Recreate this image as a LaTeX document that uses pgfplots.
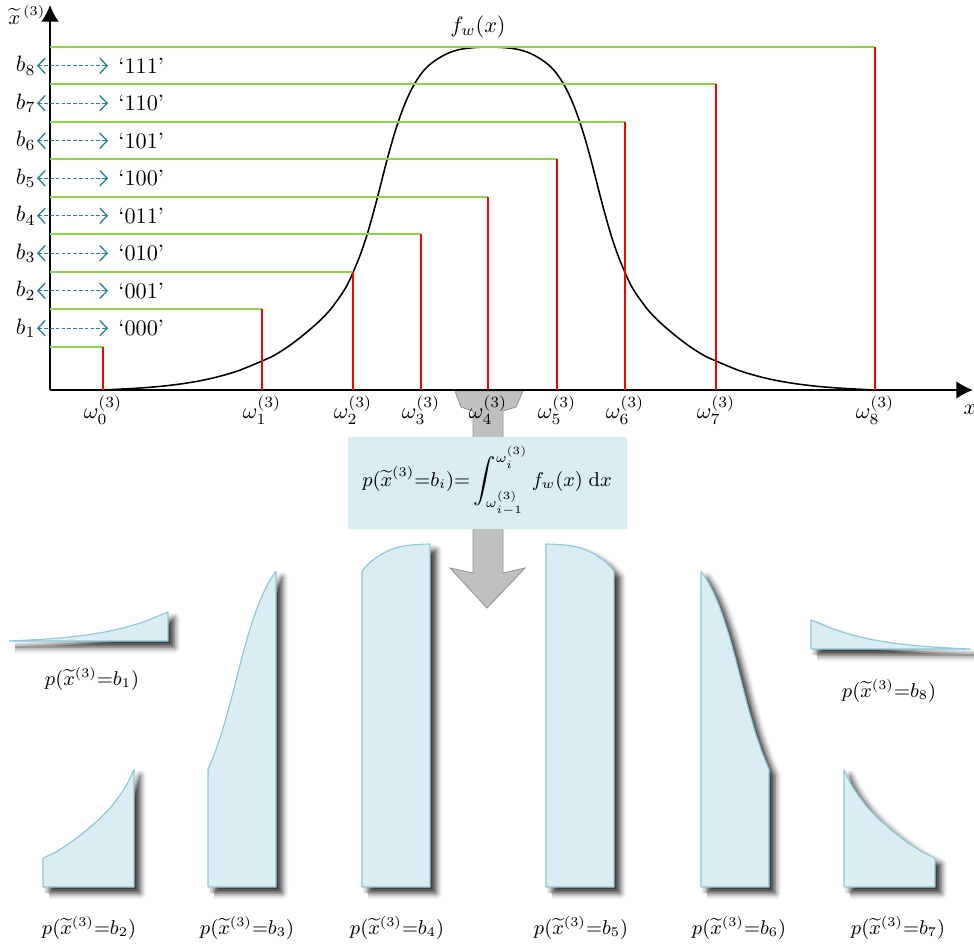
\documentclass[border=0pt]{standalone}
\usepackage{pgfplots}
\pgfplotsset{compat=1.18}
\usetikzlibrary{arrows.meta,shadows.blur}
\definecolor{lgreen}{RGB}{146,208,80}
\definecolor{pfill}{RGB}{218,237,243}
\definecolor{pedge}{RGB}{140,200,216}
\definecolor{tealc}{RGB}{40,128,155}
\definecolor{agray}{RGB}{192,192,192}
\definecolor{agrayd}{RGB}{150,150,150}
\begin{document}
\begin{tikzpicture}
% ---------------- bottom canvas (pixel coordinates, y downwards)
\begin{axis}[name=B, x=0.45pt, y=0.45pt, y dir=reverse,
  xmin=0, xmax=974, ymin=0, ymax=945, hide axis, clip=false,
  anchor=south west, at={(0,0)},
  piece/.style={fill=pfill, draw=pedge, line width=0.5pt, line join=round,
    blur shadow={shadow xshift=2.8pt, shadow yshift=-2.8pt, shadow blur radius=2.6pt, shadow opacity=80}}]
% gray arrow
\addplot[fill=agray, draw=agrayd, line width=0.4pt] coordinates {
 (455,391) (523,391) (516,407) (503,411) (503,573) (525,568) (487,608)
 (450,568) (473,573) (473,411) (461,407) (455,391)};
% formula box
\addplot[fill=pfill, draw=none] coordinates {(348,437) (627,437) (627,529) (348,529) (348,437)};
\node[font=\small] at (axis cs:487,481) {$\displaystyle p(\widetilde{x}^{(3)}{=}b_i){=}\int_{\omega_{i-1}^{(3)}}^{\omega_i^{(3)}} f_w(x)\;\mathrm{d}x$};
% pieces
\addplot[piece] coordinates {(9,641) (25,640.2) (45,639.1) (65,637.5) (85,635.2) (106,631.8) (125,627.5) (145,621.5) (168,612) (168,641) (9,641)};
\addplot[piece] coordinates {(43,887) (43,858) (55,852.5) (70,843) (85,831.5) (100,818.5) (111,807) (120,795) (125,787.5) (129,780.5) (134,769.5) (134,887) (43,887)};
\addplot[piece] coordinates {(208,887) (208,769.5) (215,752.5) (222,732) (228,711) (233,692.3) (237,676.5) (242,657) (248,635.5) (253,619.6) (258,605.6) (263,593.6) (268,583.6) (273,575.3) (276,571.3) (276,887) (208,887)};
\addplot[piece] coordinates {(362,887) (362,571.3) (365,567.3) (371,561.4) (380,555) (388,550.7) (396,547.7) (404,545.9) (414,544.7) (422,544.2) (430,544) (430,887) (362,887)};
\addplot[piece] coordinates {(546,887) (546,544) (554,544.2) (562,544.7) (572,545.9) (580,547.7) (588,550.7) (596,555) (605,561.4) (611,567.3) (614,571.3) (614,887) (546,887)};
\addplot[piece] coordinates {(701,887) (701,571.3) (704,575.3) (709,583.6) (714,593.6) (719,605.6) (724,619.6) (729,635.5) (735,657) (740,676.5) (744,692.3) (749,711) (755,732) (762,752.5) (769,769.5) (769,887) (701,887)};
\addplot[piece] coordinates {(844,887) (844,769.5) (849,780.5) (853,787.5) (858,795) (867,807) (878,818.5) (893,831.5) (908,843) (923,852.5) (935,858) (935,887) (844,887)};
\addplot[piece] coordinates {(811,649) (811,620) (834,629.5) (854,635.5) (873,639.8) (894,643.2) (914,645.5) (934,647.1) (954,648.2) (970,649) (811,649)};
% labels
\begin{scope}[every node/.style={font=\small}]
\node at (axis cs:92,679) {$p(\widetilde{x}^{(3)}{=}b_1)$};
\node at (axis cs:89,928) {$p(\widetilde{x}^{(3)}{=}b_2)$};
\node at (axis cs:247,928) {$p(\widetilde{x}^{(3)}{=}b_3)$};
\node at (axis cs:397,928) {$p(\widetilde{x}^{(3)}{=}b_4)$};
\node at (axis cs:581,928) {$p(\widetilde{x}^{(3)}{=}b_5)$};
\node at (axis cs:739,928) {$p(\widetilde{x}^{(3)}{=}b_6)$};
\node at (axis cs:898,928) {$p(\widetilde{x}^{(3)}{=}b_7)$};
\node at (axis cs:889,691) {$p(\widetilde{x}^{(3)}{=}b_8)$};
\end{scope}
\end{axis}
% ---------------- top axis (x in pixels, y = height above baseline)
\begin{axis}[name=A, x=0.45pt, y=0.45pt,
  xmin=50, xmax=973, ymin=0, ymax=385,
  anchor=south west, at={(22.5pt,249.75pt)},
  axis lines=left, clip=false,
  axis line style={line width=0.9pt, -{Latex[length=7.5pt,width=8pt]}},
  major tick length=0pt,
  xtick={103,262,353,421,488,557,625,716,875},
  xticklabels={$\omega_0^{(3)}$,$\omega_1^{(3)}$,$\omega_2^{(3)}$,$\omega_3^{(3)}$,$\omega_4^{(3)}$,$\omega_5^{(3)}$,$\omega_6^{(3)}$,$\omega_7^{(3)}$,$\omega_8^{(3)}$},
  ytick={61.75,99.25,136.75,174.25,211.75,249.25,286.75,324.25},
  yticklabels={$b_1$,$b_2$,$b_3$,$b_4$,$b_5$,$b_6$,$b_7$,$b_8$},
  yticklabel style={xshift=-3pt},
  xticklabel style={yshift=1pt}]
% curve
\addplot[black, line width=0.7pt, smooth, tension=0.5] coordinates {
(103,0) (119,0.8) (139,1.9) (159,3.5) (179,5.8) (200,9.2) (219,13.5) (239,19.5)
(262,29) (274,34.5) (289,44) (304,55.5) (319,68.5) (330,80) (339,92) (344,99.5)
(348,106.5) (353,117.5) (360,134.5) (367,155) (373,176) (378,194.7) (382,210.5) (387,230)
(393,251.5) (398,267.4) (403,281.4) (408,293.4) (413,303.4) (418,311.7) (424,319.7) (430,325.6)
(439,332) (447,336.3) (455,339.3) (463,341.1) (473,342.3) (481,342.8) (489,343)
(497,342.8) (505,342.3) (515,341.1) (523,339.3) (531,336.3) (539,332) (548,325.6) (554,319.7)
(560,311.7) (565,303.4) (570,293.4) (575,281.4) (580,267.4) (585,251.5) (591,230) (596,210.5)
(600,194.7) (605,176) (611,155) (618,134.5) (625,117.5) (630,106.5) (634,99.5) (639,92)
(648,80) (659,68.5) (674,55.5) (689,44) (704,34.5) (716,29) (739,19.5) (759,13.5)
(778,9.2) (799,5.8) (819,3.5) (839,1.9) (859,0.8) (875,0)};
% quantisation levels (green) and boundaries (red)
\addplot[lgreen, line width=0.9pt] coordinates {(50,43) (103,43)};
\addplot[lgreen, line width=0.9pt] coordinates {(50,80.5) (262,80.5)};
\addplot[lgreen, line width=0.9pt] coordinates {(50,118) (353,118)};
\addplot[lgreen, line width=0.9pt] coordinates {(50,155.5) (421,155.5)};
\addplot[lgreen, line width=0.9pt] coordinates {(50,193) (488,193)};
\addplot[lgreen, line width=0.9pt] coordinates {(50,230.5) (557,230.5)};
\addplot[lgreen, line width=0.9pt] coordinates {(50,268) (625,268)};
\addplot[lgreen, line width=0.9pt] coordinates {(50,305.5) (716,305.5)};
\addplot[lgreen, line width=0.9pt] coordinates {(50,343) (875,343)};
\addplot[red, line width=0.9pt] coordinates {(103,43) (103,0)};
\addplot[red, line width=0.9pt] coordinates {(262,80.5) (262,0)};
\addplot[red, line width=0.9pt] coordinates {(353,118) (353,0)};
\addplot[red, line width=0.9pt] coordinates {(421,155.5) (421,0)};
\addplot[red, line width=0.9pt] coordinates {(488,193) (488,0)};
\addplot[red, line width=0.9pt] coordinates {(557,230.5) (557,0)};
\addplot[red, line width=0.9pt] coordinates {(625,268) (625,0)};
\addplot[red, line width=0.9pt] coordinates {(716,305.5) (716,0)};
\addplot[red, line width=0.9pt] coordinates {(875,343) (875,0)};
% codeword arrows
\pgfplotsinvokeforeach{61.75,99.25,136.75,174.25,211.75,249.25,286.75,324.25}{
  \addplot[tealc, line width=0.6pt, dash pattern=on 1.6pt off 1pt,
    arrows={Straight Barb[length=3.3pt,width=7pt,line width=0.6pt]-Straight Barb[length=3.3pt,width=7pt,line width=0.6pt]}]
    coordinates {(37,#1) (108,#1)};
}
\node[anchor=west, inner sep=0pt] at (axis cs:118,61.75) {`000'};
\node[anchor=west, inner sep=0pt] at (axis cs:118,99.25) {`001'};
\node[anchor=west, inner sep=0pt] at (axis cs:118,136.75) {`010'};
\node[anchor=west, inner sep=0pt] at (axis cs:118,174.25) {`011'};
\node[anchor=west, inner sep=0pt] at (axis cs:118,211.75) {`100'};
\node[anchor=west, inner sep=0pt] at (axis cs:118,249.25) {`101'};
\node[anchor=west, inner sep=0pt] at (axis cs:118,286.75) {`110'};
\node[anchor=west, inner sep=0pt] at (axis cs:118,324.25) {`111'};
\node at (axis cs:478,363) {$f_w(x)$};
\node[font=\small] at (axis cs:27,375) {$\widetilde{x}^{\,(3)}$};
\node at (axis cs:970,-20) {$x$};
\end{axis}
\pgfresetboundingbox
\path (0,0) rectangle (438.3pt,425.25pt);
\end{tikzpicture}
\end{document}
